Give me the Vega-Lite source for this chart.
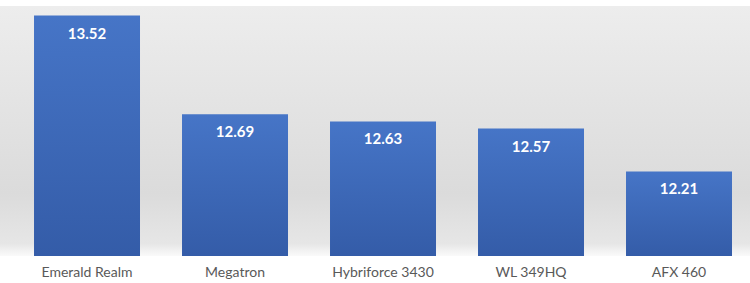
{
  "$schema": "https://vega.github.io/schema/vega-lite/v6.json",
  "width": 750,
  "height": 250,
  "autosize": {"type": "none"},
  "padding": {"left": 0, "top": 6, "right": 0, "bottom": 27},
  "background": "#ffffff",
  "config": {
    "view": {
      "stroke": null,
      "fill": {
        "gradient": "linear",
        "x1": 0, "y1": 0, "x2": 0, "y2": 1,
        "stops": [
          {"offset": 0, "color": "#ededed"},
          {"offset": 0.75, "color": "#dbdbdb"},
          {"offset": 0.95, "color": "#e6e6e6"},
          {"offset": 1, "color": "#fafafa"}
        ]
      }
    }
  },
  "data": {
    "values": [
      {"name": "Emerald Realm", "value": 13.52},
      {"name": "Megatron", "value": 12.69},
      {"name": "Hybriforce 3430", "value": 12.63},
      {"name": "WL 349HQ", "value": 12.57},
      {"name": "AFX 460", "value": 12.21}
    ]
  },
  "encoding": {
    "x": {
      "field": "name",
      "type": "nominal",
      "sort": null,
      "scale": {"paddingInner": 0.2838, "paddingOuter": 0.1757, "align": 0.654},
      "axis": {
        "title": null,
        "labelAngle": 0,
        "domain": false,
        "ticks": false,
        "labelFont": "Lato",
        "labelFontSize": 14,
        "labelColor": "#595959",
        "labelPadding": 9
      }
    },
    "y": {
      "field": "value",
      "type": "quantitative",
      "scale": {"domain": [11.5, 13.6], "zero": false, "nice": false},
      "axis": null
    }
  },
  "layer": [
    {
      "mark": {
        "type": "bar",
        "fill": {
          "gradient": "linear",
          "x1": 0, "y1": 0, "x2": 0, "y2": 1,
          "stops": [
            {"offset": 0, "color": "#4675c7"},
            {"offset": 1, "color": "#345ca8"}
          ]
        }
      },
      "encoding": {
        "y2": {"datum": 11.5}
      }
    },
    {
      "mark": {
        "type": "text",
        "baseline": "middle",
        "dy": 18,
        "font": "Lato",
        "fontSize": 15,
        "fontWeight": "bold",
        "color": "#ffffff"
      },
      "encoding": {
        "text": {"field": "value", "type": "quantitative", "format": ".2f"}
      }
    }
  ]
}
